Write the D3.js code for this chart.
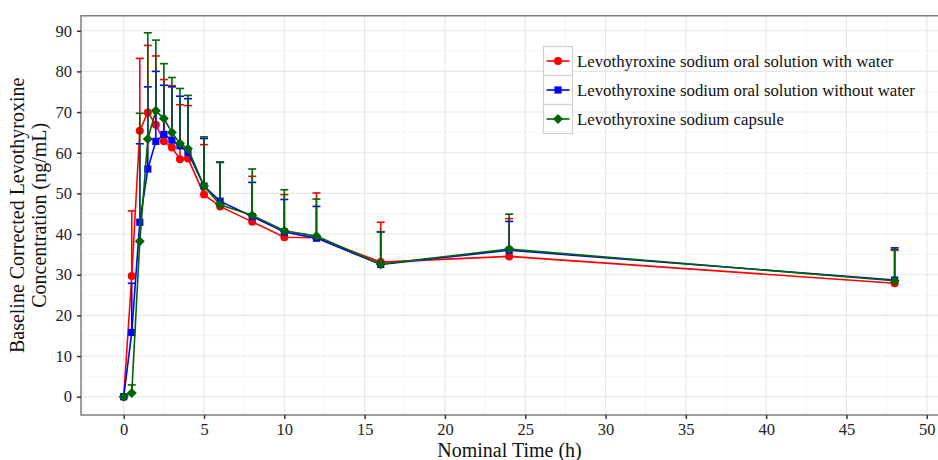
<!DOCTYPE html>
<html>
<head>
    <meta charset="UTF-8" />
    <title>Levothyroxine concentration</title>
    <style>
        body { margin: 0; background-color: #fff; }
        svg { display: block; font-family: "Liberation Serif", "DejaVu Serif", serif; }
        .grid-major { stroke: #e6e6e6; stroke-width: 1.1; }
        .grid-minor { stroke: #f3f3f3; stroke-width: 0.8; }
        .tick-label { font-family: "Liberation Serif", serif; font-size: 16.5px; fill: #222; }
        .axis-title { font-size: 20px; fill: #111; }
        .legend-text { font-size: 16.8px; fill: #111; }
    </style>
    <script src="https://cdn.jsdelivr.net/npm/d3@7"></script>
</head>
<body>
<div id="graph-container"></div>
<script>
    // nominal sampling times (h)
    let times = [0, 0.5, 1, 1.5, 2, 2.5, 3, 3.5, 4, 5, 6, 8, 10, 12, 16, 24, 48];

    // mean concentrations (ng/mL)
    let withWater    = [0, 29.7, 65.4, 69.9, 66.9, 62.8, 61.3, 58.4, 58.6, 49.7, 46.8, 43.0, 39.2, 39.1, 33.1, 34.5, 27.9];
    let withoutWater = [0, 15.8, 42.9, 56.0, 62.8, 64.5, 63.1, 61.7, 60.1, 51.8, 48.1, 44.3, 40.5, 39.0, 32.5, 36.0, 28.7];
    let capsule      = [0, 0.9, 38.2, 63.4, 70.3, 68.4, 65.0, 62.3, 61.0, 51.8, 47.2, 44.6, 40.8, 39.5, 32.6, 36.3, 28.5];

    // mean + SD (top of the error bars)
    let withWaterUp    = [0, 45.7, 83.2, 86.4, 83.8, 78.0, 76.5, 71.8, 71.6, 62.0, 57.7, 54.2, 49.7, 50.1, 42.9, 43.8, 36.0];
    let withoutWaterUp = [0, 27.9, 62.2, 76.2, 80.0, 76.6, 76.2, 73.9, 73.3, 63.5, 57.6, 52.7, 48.5, 46.8, 40.5, 43.1, 36.6];
    let capsuleUp      = [0, 2.9, 69.7, 89.5, 87.7, 81.9, 78.5, 75.8, 74.1, 63.9, 57.7, 56.0, 50.9, 48.6, 40.6, 44.9, 36.2];

    let seriesNames = [
        "Levothyroxine sodium oral solution with water",
        "Levothyroxine sodium oral solution without water",
        "Levothyroxine sodium capsule"
    ];
    let xTicks = d3.range(0, 51, 5);
    let yTicks = d3.range(0, 91, 10);

    let series = [
        { name: seriesNames[0], mean: withWater, up: withWaterUp, color: "#ff0000", shape: "circle" },
        { name: seriesNames[1], mean: withoutWater, up: withoutWaterUp, color: "#0000ff", shape: "square" },
        { name: seriesNames[2], mean: capsule, up: capsuleUp, color: "#006400", shape: "diamond" }
    ];

    let W = 938, H = 460;
    let panel = { left: 81, top: 15.7, right: 938, bottom: 415 };

    let svg = d3.select("#graph-container").append("svg")
        .attr("width", W)
        .attr("height", H);

    let x = d3.scaleLinear().domain([-2.66, 50.7]).range([panel.left, panel.right]);
    let y = d3.scaleLinear().domain([-4.5, 93.7]).range([panel.bottom, panel.top]);

    // grid
    let grid = svg.append("g").attr("class", "grid");
    grid.selectAll(".xminor").data(d3.range(-2.5, 51, 5)).enter().append("line")
        .attr("class", "grid-minor")
        .attr("x1", d => x(d)).attr("x2", d => x(d))
        .attr("y1", panel.top).attr("y2", panel.bottom);
    grid.selectAll(".yminor").data(d3.range(-5, 95, 10).filter(d => d > -4.5)).enter().append("line")
        .attr("class", "grid-minor")
        .attr("y1", d => y(d)).attr("y2", d => y(d))
        .attr("x1", panel.left).attr("x2", panel.right);
    grid.selectAll(".xmajor").data(xTicks).enter().append("line")
        .attr("class", "grid-major")
        .attr("x1", d => x(d)).attr("x2", d => x(d))
        .attr("y1", panel.top).attr("y2", panel.bottom);
    grid.selectAll(".ymajor").data(yTicks).enter().append("line")
        .attr("class", "grid-major")
        .attr("y1", d => y(d)).attr("y2", d => y(d))
        .attr("x1", panel.left).attr("x2", panel.right);

    // panel border
    svg.append("path")
        .attr("d", `M${panel.right},${panel.top}H${panel.left}V${panel.bottom}H${panel.right}`)
        .attr("fill", "none")
        .attr("stroke", "#7f7f7f")
        .attr("stroke-width", 1.5);

    // axes
    let xAxis = svg.append("g")
        .attr("transform", `translate(0,${panel.bottom})`)
        .call(d3.axisBottom(x).tickValues(xTicks).tickSize(4).tickPadding(4));
    let yAxis = svg.append("g")
        .attr("transform", `translate(${panel.left},0)`)
        .call(d3.axisLeft(y).tickValues(yTicks).tickSize(4).tickPadding(5));
    [xAxis, yAxis].forEach(a => {
        a.attr("font-family", null).attr("font-size", null);
        a.select(".domain").remove();
        a.selectAll(".tick line").attr("stroke", "#333").attr("stroke-width", 1.5);
        a.selectAll(".tick text").attr("class", "tick-label").attr("fill", "#222");
    });

    // axis titles
    svg.append("text").attr("class", "axis-title")
        .attr("x", (panel.left + panel.right) / 2).attr("y", 457)
        .attr("text-anchor", "middle")
        .text("Nominal Time (h)");
    let yt = svg.append("text").attr("class", "axis-title")
        .attr("transform", `translate(24,${(panel.top + panel.bottom) / 2}) rotate(-90)`)
        .attr("text-anchor", "middle");
    yt.append("tspan").attr("x", 0).attr("dy", 0).text("Baseline Corrected Levothyroxine");
    yt.append("tspan").attr("x", 0).attr("dy", 22).text("Concentration (ng/mL)");

    let plot = svg.append("g");
    let line = d3.line().x(d => x(d[0])).y(d => y(d[1]));

    function marker(g, shape, color) {
        if (shape === "circle") {
            g.append("circle").attr("r", 4).attr("fill", color);
        } else if (shape === "square") {
            g.append("rect").attr("x", -3.6).attr("y", -3.6).attr("width", 7.2).attr("height", 7.2).attr("fill", color);
        } else {
            g.append("path").attr("d", "M0,-5L5,0L0,5L-5,0Z").attr("fill", color);
        }
    }

    series.forEach(s => {
        let pts = times.map((t, i) => [t, s.mean[i], s.up[i]]);
        let g = plot.append("g");
        // error bars (upper only)
        g.selectAll(".stem").data(pts.filter(p => p[2] > p[1])).enter().append("line")
            .attr("x1", d => x(d[0])).attr("x2", d => x(d[0]))
            .attr("y1", d => y(d[1])).attr("y2", d => y(d[2]))
            .attr("stroke", s.color).attr("stroke-width", 1.6);
        g.selectAll(".cap").data(pts.filter(p => p[2] > p[1])).enter().append("line")
            .attr("x1", d => x(d[0]) - 4).attr("x2", d => x(d[0]) + 4)
            .attr("y1", d => y(d[2])).attr("y2", d => y(d[2]))
            .attr("stroke", s.color).attr("stroke-width", 1.6);
        g.append("path").datum(pts)
            .attr("d", line)
            .attr("fill", "none")
            .attr("stroke", s.color)
            .attr("stroke-width", 1.6);
        g.selectAll(".pt").data(pts).enter().append("g")
            .attr("transform", d => `translate(${x(d[0])},${y(d[1])})`)
            .each(function () { marker(d3.select(this), s.shape, s.color); });
    });

    // legend
    let legend = svg.append("g").attr("transform", "translate(543.5,46.5)");
    let keyH = 29;
    series.forEach((s, i) => {
        let row = legend.append("g").attr("transform", `translate(0,${i * keyH})`);
        row.append("rect").attr("width", 29).attr("height", keyH)
            .attr("fill", "#fff").attr("stroke", "#d0d0d0").attr("stroke-width", 1.2);
        row.append("line").attr("x1", 3).attr("x2", 26).attr("y1", keyH / 2).attr("y2", keyH / 2)
            .attr("stroke", s.color).attr("stroke-width", 1.6);
        let m = row.append("g").attr("transform", `translate(14.5,${keyH / 2})`);
        marker(m, s.shape, s.color);
        row.append("text").attr("class", "legend-text")
            .attr("x", 33.5).attr("y", keyH / 2 + 5.5)
            .text(s.name);
    });
</script>
</body>
</html>
